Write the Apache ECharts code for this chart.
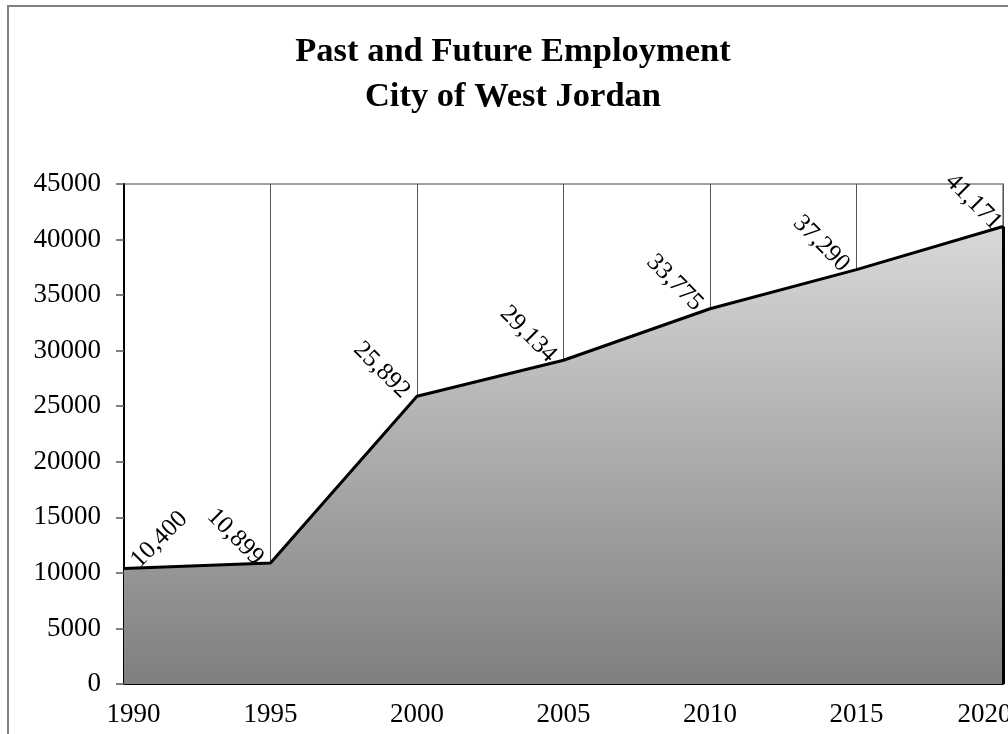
<!DOCTYPE html>
<html>
<head>
<meta charset="utf-8">
<script src="https://cdn.jsdelivr.net/npm/echarts@6/dist/echarts.min.js"></script>
<style>
  html, body { margin: 0; padding: 0; background: #fff; }
  #chart { width: 1008px; height: 734px; }
</style>
</head>
<body>
<div id="chart"></div>
<script>
// Employment, City of West Jordan (past and projected)
const years = ['1990', '1995', '2000', '2005', '2010', '2015', '2020'];
const employment = [10400, 10899, 25892, 29134, 33775, 37290, 41171];
const yTicks = { min: 0, max: 45000, interval: 5000 };

const serif = '"Liberation Serif", "Times New Roman", serif';

// Value labels: the first reads upward, the rest read downward toward their point
const lastIdx = employment.length - 1;
const seriesData = employment.map((v, i) => {
  const item = { value: v };
  if (i === 0) {
    item.label = {
      rotate: 45, align: 'left', verticalAlign: 'bottom', offset: [11, 17]
    };
  } else {
    item.label = {
      rotate: -45, align: 'right', verticalAlign: 'bottom',
      offset: i === lastIdx ? [-4, 16] : [-9, 19]
    };
  }
  return item;
});

const fmt = n => n.toLocaleString('en-US');

const chart = echarts.init(document.getElementById('chart'));
chart.setOption({
  backgroundColor: '#ffffff',
  animation: false,
  title: {
    text: 'Past and Future Employment\nCity of West Jordan',
    left: 508,
    top: 25,
    textAlign: 'center',
    textStyle: {
      fontFamily: serif, fontWeight: 'bold', fontSize: 34.5,
      lineHeight: 45, color: '#000'
    }
  },
  graphic: [{
    type: 'rect',
    shape: { x: 8, y: 6, width: 1100, height: 800 },
    style: { fill: 'none', stroke: '#808080', lineWidth: 2 },
    silent: true
  }],
  grid: {
    left: 124, right: 5, top: 184, bottom: 50,
    show: true, borderColor: '#a0a0a0', borderWidth: 2,
    containLabel: false,
    outerBoundsMode: 'none'
  },
  xAxis: {
    type: 'category',
    data: years,
    boundaryGap: false,
    axisLine: { lineStyle: { color: '#000', width: 2 } },
    axisTick: { show: false },
    splitLine: { show: true, interval: 0, lineStyle: { color: '#555', width: 1 } },
    axisLabel: {
      interval: 0,
      margin: 17,
      fontFamily: serif, fontSize: 27, color: '#000',
      formatter: (val, idx) => {
        if (idx === 0) return '{first|' + val + '}';
        if (idx === years.length - 1) return '{last|' + val + '}';
        return val;
      },
      rich: {
        first: { fontFamily: serif, fontSize: 27, color: '#000', padding: [0, 0, 0, 19] },
        last: { fontFamily: serif, fontSize: 27, color: '#000', padding: [0, 37, 0, 0] }
      }
    }
  },
  yAxis: {
    type: 'value',
    min: yTicks.min, max: yTicks.max, interval: yTicks.interval,
    axisLine: { show: true, lineStyle: { color: '#000', width: 2 } },
    axisTick: { show: true, length: 8, lineStyle: { color: '#555', width: 1.5 } },
    splitLine: { show: false },
    axisLabel: {
      margin: 23, fontFamily: serif, fontSize: 27, color: '#000',
      formatter: v => String(v)
    }
  },
  series: [{
    type: 'line',
    data: seriesData,
    symbol: 'circle',
    symbolSize: 1,
    itemStyle: { color: '#000' },
    lineStyle: { color: '#000', width: 3 },
    areaStyle: {
      opacity: 1,
      color: {
        type: 'linear', x: 0, y: 0, x2: 0, y2: 1,
        colorStops: [
          { offset: 0, color: '#d9d9d9' },
          { offset: 1, color: '#7f7f7f' }
        ]
      }
    },
    label: {
      show: true,
      position: 'inside',
      distance: 0,
      fontFamily: serif, fontSize: 25, color: '#000',
      formatter: p => fmt(p.value)
    },
    markLine: {
      silent: true,
      symbol: 'none',
      label: { show: false },
      lineStyle: { color: '#000', width: 3, type: 'solid' },
      data: [[
        { coord: [lastIdx, 0] },
        { coord: [lastIdx, employment[lastIdx]] }
      ]]
    }
  }]
});
</script>
</body>
</html>
